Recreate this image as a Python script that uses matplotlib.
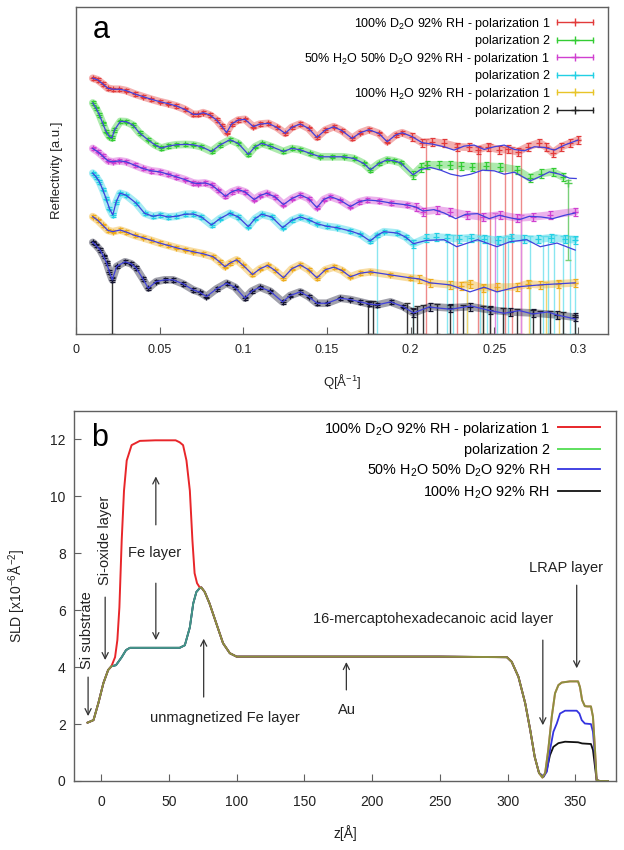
import numpy as np
import matplotlib
matplotlib.use('Agg')
import matplotlib.pyplot as plt
from matplotlib.lines import Line2D
from matplotlib.legend_handler import HandlerLine2D
from matplotlib.ticker import FuncFormatter, MultipleLocator

plt.rcParams['font.family'] = ['Liberation Sans', 'DejaVu Sans']
plt.rcParams['mathtext.fontset'] = 'custom'
plt.rcParams['mathtext.rm'] = 'Liberation Sans'
plt.rcParams['mathtext.it'] = 'Liberation Sans:italic'
plt.rcParams['mathtext.bf'] = 'Liberation Sans:bold'
plt.rcParams['mathtext.default'] = 'regular'

# ---------------- panel a : reflectivity (arbitrary, offset units) ----------------
q_red = [0.010, 0.013, 0.016, 0.019, 0.022, 0.026, 0.030, 0.035, 0.040, 0.045, 0.050, 0.055, 0.060, 0.065,
         0.070, 0.073, 0.076, 0.080, 0.084, 0.087, 0.090, 0.093, 0.097, 0.101, 0.106, 0.110, 0.115, 0.120,
         0.125, 0.129, 0.134, 0.139, 0.144, 0.149, 0.154, 0.159, 0.165, 0.170, 0.175, 0.181, 0.186, 0.191,
         0.195, 0.201, 0.207, 0.213, 0.220, 0.228, 0.235, 0.240, 0.246, 0.253, 0.258, 0.264, 0.270, 0.277,
         0.281, 0.285, 0.290, 0.295, 0.300]
r_red = [765, 760, 748, 735, 732, 732, 728, 718, 710, 702, 695, 689, 682, 672, 657, 657, 662, 655, 640, 622,
         602, 628, 640, 642, 620, 628, 630, 618, 600, 618, 628, 615, 588, 610, 620, 608, 585, 602, 611, 600,
         575, 595, 602, 590, 572, 575, 570, 560, 558, 551, 560, 551, 552, 545, 560, 572, 560, 542, 560, 570, 580]
q_red_fit_tail = [0.207, 0.213, 0.220, 0.226, 0.232, 0.238, 0.244, 0.250, 0.256, 0.262, 0.268, 0.274, 0.280,
                  0.286, 0.292, 0.300]
r_red_fit_tail = [572, 568, 560, 550, 562, 565, 552, 560, 565, 552, 548, 560, 558, 550, 565, 580]
q_red_long = [0.209, 0.228, 0.240, 0.2415, 0.2475, 0.2565, 0.2605, 0.266]
r_red_long = [574, 560, 551, 551, 560, 551, 552, 546]

q_grn = [0.010, 0.012, 0.014, 0.016, 0.018, 0.020, 0.0215, 0.023, 0.0265, 0.030, 0.034, 0.038, 0.043, 0.047,
         0.051, 0.055, 0.060, 0.065, 0.070, 0.075, 0.081, 0.086, 0.092, 0.097, 0.103, 0.107, 0.111, 0.116,
         0.124, 0.129, 0.134, 0.140, 0.146, 0.153, 0.160, 0.166, 0.172, 0.176, 0.181, 0.186, 0.190, 0.194,
         0.2015, 0.206, 0.210, 0.217, 0.2235, 0.230, 0.237, 0.245, 0.2535, 0.2635, 0.2713, 0.278, 0.285, 0.291]
r_grn = [691, 675, 655, 630, 605, 590, 586, 610, 636, 635, 625, 601, 581, 566, 556, 562, 566, 567, 566, 560,
         546, 565, 581, 570, 537, 560, 570, 562, 546, 555, 551, 540, 530, 530, 530, 525, 510, 491, 510, 521,
         518, 512, 476, 498, 506, 506, 506, 503, 500, 502, 500, 491, 467, 480, 485, 470]
q_grn_fit_tail = [0.206, 0.212, 0.218, 0.224, 0.230, 0.236, 0.243, 0.250, 0.256, 0.262, 0.2715, 0.277, 0.283,
                  0.289, 0.295, 0.299]
r_grn_fit_tail = [492, 498, 490, 478, 472, 478, 490, 488, 478, 484, 458, 470, 485, 478, 466, 465]
q_grn_long = [0.294]
r_grn_long = [452]
r_grn_long_low = [222]

q_mag = [0.010, 0.013, 0.016, 0.019, 0.022, 0.026, 0.030, 0.035, 0.040, 0.045, 0.050, 0.055, 0.060, 0.065,
         0.070, 0.073, 0.077, 0.081, 0.085, 0.0893, 0.093, 0.097, 0.101, 0.1065, 0.110, 0.114, 0.119, 0.124,
         0.129, 0.134, 0.139, 0.144, 0.148, 0.152, 0.158, 0.164, 0.169, 0.174, 0.181, 0.188, 0.198, 0.203,
         0.2074, 0.2157, 0.2236, 0.234, 0.243, 0.2535, 0.2637, 0.273, 0.2834, 0.2984]
r_mag = [555, 545, 532, 518, 515, 518, 515, 505, 495, 488, 485, 478, 470, 462, 452, 450, 452, 446, 430, 412,
         425, 432, 425, 402, 414, 421, 410, 387, 405, 416, 405, 378, 402, 411, 400, 381, 395, 401, 398, 392,
         386, 380, 366, 371, 366, 356, 350, 356, 347, 350, 356, 366]
q_mag_fit_tail = [0.2074, 0.214, 0.220, 0.227, 0.233, 0.240, 0.247, 0.253, 0.259, 0.265, 0.271, 0.278,
                  0.285, 0.292, 0.2984]
r_mag_fit_tail = [368, 372, 362, 345, 358, 360, 345, 355, 348, 342, 352, 350, 345, 355, 362]
q_mag_long = [0.2505, 0.266]
r_mag_long = [354, 347]

q_cyn = [0.010, 0.012, 0.014, 0.016, 0.018, 0.020, 0.022, 0.024, 0.0263, 0.030, 0.036, 0.041, 0.046, 0.050,
         0.055, 0.060, 0.065, 0.070, 0.075, 0.081, 0.086, 0.092, 0.097, 0.103, 0.107, 0.111, 0.117, 0.1235,
         0.129, 0.134, 0.139, 0.144, 0.150, 0.156, 0.164, 0.170, 0.1758, 0.180, 0.184, 0.192, 0.197, 0.2017,
         0.2095, 0.215, 0.222, 0.229, 0.236, 0.244, 0.252, 0.260, 0.268, 0.276, 0.284, 0.292, 0.298]
r_cyn = [481, 470, 455, 432, 405, 375, 356, 395, 421, 415, 391, 361, 352, 356, 350, 352, 358, 359, 350, 326,
         345, 361, 350, 321, 345, 358, 350, 318, 340, 350, 342, 330, 322, 318, 308, 298, 278, 295, 306, 302,
         290, 270, 287, 290, 288, 285, 288, 285, 280, 287, 285, 283, 288, 284, 282]
q_cyn_fit_tail = [0.2095, 0.220, 0.2276, 0.240, 0.2516, 0.2595, 0.2694, 0.2775, 0.2875, 0.2984]
r_cyn_fit_tail = [280, 282, 261, 282, 261, 276, 282, 261, 272, 251]
q_cyn_long = [0.180, 0.2015, 0.222, 0.2255, 0.2335, 0.2415, 0.2455, 0.2515, 0.255, 0.258, 0.2715, 0.279,
              0.282, 0.286, 0.291, 0.2955, 0.298]
r_cyn_long = [295, 272, 288, 287, 286, 286, 285, 282, 281, 285, 286, 284, 285, 287, 286, 284, 282]

q_yel = [0.010, 0.013, 0.016, 0.019, 0.022, 0.0263, 0.030, 0.035, 0.040, 0.045, 0.050, 0.055, 0.060, 0.065,
         0.070, 0.076, 0.082, 0.086, 0.089, 0.092, 0.096, 0.100, 0.1055, 0.110, 0.1145, 0.119, 0.124, 0.129,
         0.134, 0.139, 0.144, 0.149, 0.154, 0.159, 0.164, 0.170, 0.176, 0.1877, 0.1996, 0.205, 0.2117,
         0.2236, 0.230, 0.2355, 0.243, 0.2516, 0.2637, 0.270, 0.2775, 0.288, 0.2984]
r_yel = [351, 340, 325, 310, 306, 311, 305, 295, 288, 280, 272, 265, 258, 252, 246, 240, 231, 215, 201, 212,
         222, 205, 178, 195, 205, 190, 168, 195, 207, 192, 168, 192, 200, 190, 171, 182, 186, 177, 168, 165,
         153, 147, 145, 150, 138, 140, 141, 150, 147, 150, 153]
q_yel_fit_tail = [0.2117, 0.2236, 0.2355, 0.244, 0.2516, 0.2637, 0.2775, 0.2984]
r_yel_fit_tail = [153, 147, 126, 140, 126, 141, 147, 153]
q_yel_long = [0.234, 0.243, 0.271, 0.281, 0.289]
r_yel_long = [148, 140, 150, 148, 150]

q_blk = [0.010, 0.012, 0.0144, 0.0165, 0.0183, 0.020, 0.0217, 0.0243, 0.0293, 0.033, 0.036, 0.040, 0.0432,
         0.048, 0.053, 0.058, 0.064, 0.070, 0.074, 0.078, 0.084, 0.090, 0.095, 0.101, 0.105, 0.110, 0.116,
         0.1235, 0.128, 0.134, 0.139, 0.144, 0.150, 0.158, 0.164, 0.170, 0.175, 0.180, 0.188, 0.1955, 0.2017,
         0.2117, 0.2236, 0.2355, 0.2475, 0.2595, 0.273, 0.2875, 0.2984]
r_blk = [274, 265, 251, 232, 212, 185, 162, 202, 216, 210, 197, 165, 137, 157, 162, 162, 150, 132, 125, 112,
         135, 152, 140, 107, 128, 140, 128, 96, 115, 126, 112, 92, 92, 107, 103, 96, 90, 87, 96, 82, 63, 82,
         78, 82, 72, 66, 63, 57, 50]
q_blk_fit_tail = [0.212, 0.224, 0.236, 0.2475, 0.256, 0.265, 0.273, 0.282, 0.2875, 0.2984]
r_blk_fit_tail = [80, 74, 84, 70, 62, 70, 60, 66, 57, 45]
q_blk_long = [0.0217, 0.1745, 0.1775, 0.198, 0.2015, 0.204, 0.2075, 0.216, 0.2235, 0.2315, 0.2435, 0.2475,
              0.255, 0.2635, 0.273, 0.2775, 0.2835, 0.291, 0.298]
r_blk_long = [162, 92, 90, 85, 70, 75, 80, 82, 78, 80, 76, 72, 70, 66, 63, 60, 60, 57, 50]

labels_a = ['100% D$_2$O 92% RH - polarization 1', 'polarization 2',
            '50% H$_2$O 50% D$_2$O 92% RH - polarization 1', 'polarization 2',
            '100% H$_2$O 92% RH - polarization 1', 'polarization 2']
xticks_a = [0, 0.05, 0.1, 0.15, 0.2, 0.25, 0.3]

# ---------------- panel b : SLD profiles ----------------
z_red = [-10, -5.6, -2, 1.7, 5.2, 7.6, 10.3, 12, 13.5, 15.2, 16.9, 18.9, 22.5, 28.6, 40, 55, 58, 60.5, 63,
         65.5, 67.4, 69, 70.8, 72.8, 74, 76.5, 80, 85, 90, 95, 100, 150, 200, 250, 299.5, 303, 308, 313,
         316.7, 320, 323.2, 325.7, 327.7, 330, 332.6, 335, 337.5, 340, 346, 352, 353.4, 355, 357, 359, 361.5,
         363, 364.5, 365.7, 368, 374]
sld_red = [2.05, 2.14, 2.74, 3.44, 3.9, 4.03, 4.35, 4.95, 6.1, 8.45, 10.2, 11.26, 11.8, 11.95, 11.97, 11.97,
           11.9, 11.8, 11.26, 10.2, 8.45, 7.3, 6.95, 6.8, 6.8, 6.64, 6.24, 5.54, 4.84, 4.49, 4.37, 4.37, 4.37,
           4.37, 4.35, 4.19, 3.66, 2.73, 1.79, 0.85, 0.28, 0.12, 0.28, 1.09, 2.26, 3.08, 3.37, 3.46, 3.5, 3.5,
           3.3, 2.84, 2.63, 2.62, 2.62, 2.26, 1.09, 0.03, 0, 0]
z_grn = [-10, -5.6, -2, 1.7, 5.2, 7.6, 11, 15.2, 18.4, 21.3, 40, 58, 61.8, 65.5, 68, 70.3, 72.8, 74, 76.5,
         80, 85, 90, 95, 100, 150, 200, 250, 299.5, 303, 308, 313, 316.7, 320, 323.2, 325.7, 327.7, 330,
         332.6, 335, 337.5, 340, 346, 352, 353.4, 355, 357, 359, 361.5, 363, 364.5, 365.7, 368, 374]
sld_grn = [2.05, 2.14, 2.74, 3.44, 3.9, 4.03, 4.07, 4.35, 4.6, 4.68, 4.68, 4.68, 4.77, 5.4, 6.24, 6.64,
           6.78, 6.8, 6.64, 6.24, 5.54, 4.84, 4.49, 4.37, 4.37, 4.37, 4.37, 4.35, 4.19, 3.66, 2.73, 1.79,
           0.85, 0.28, 0.12, 0.28, 1.09, 2.26, 3.08, 3.37, 3.46, 3.5, 3.5, 3.3, 2.84, 2.63, 2.62, 2.62, 2.26,
           1.09, 0.03, 0, 0]
z_blu_tail = [326.5, 329, 331.3, 333.8, 336.3, 338.7, 342.4, 351, 353, 354.7, 357, 361.5, 363, 364.5, 365.7,
              368, 374]
sld_blu_tail = [0.15, 0.33, 1.09, 1.73, 2.02, 2.37, 2.47, 2.47, 2.37, 2.14, 2.02, 2.0, 1.73, 0.85, 0.03, 0, 0]
z_blk_tail = [326.5, 328.9, 331.3, 333.8, 337.5, 342.4, 352, 355, 361.5, 363, 364.5, 365.7, 368, 374]
sld_blk_tail = [0.15, 0.39, 0.91, 1.2, 1.33, 1.38, 1.36, 1.32, 1.3, 1.09, 0.5, 0.03, 0, 0]
labels_b = ['100% D$_2$O 92% RH - polarization 1', 'polarization 2',
            '50% H$_2$O 50% D$_2$O 92% RH', '100% H$_2$O 92% RH']

# annotations: (text, x, y, rotation), arrows: (x, y_tail, y_head)
ann_text = [('Si substrate', -10.3, 5.3, 90), ('Si-oxide layer', 2.9, 8.46, 90), ('Fe layer', 39.7, 8.0, 0),
            ('unmagnetized Fe layer', 91.5, 2.2, 0), ('Au', 181.6, 2.5, 0),
            ('16-mercaptohexadecanoic acid layer', 245, 5.7, 0), ('LRAP layer', 343, 7.5, 0)]
ann_arrows = [(-9.6, 3.65, 2.28), (3.0, 6.46, 4.25), (40.4, 9.0, 10.7), (40.4, 6.95, 4.95),
              (75.7, 2.95, 5.0), (181, 3.2, 4.18), (326, 4.95, 1.96), (351, 6.88, 3.96)]

# ---------------------------------------------------------------------------
fig = plt.figure(figsize=(6.24, 8.5), dpi=100)
spine_c = '#606060'
txt_c = '#222222'

axa = fig.add_axes([76 / 624, 1 - 334 / 850, 532 / 624, 327 / 850])
fit_c = '#4040dc'
series = [
    (q_red, r_red, q_red_fit_tail, r_red_fit_tail, q_red_long, r_red_long, '#e23a3a', '#ee8a8a'),
    (q_grn, r_grn, q_grn_fit_tail, r_grn_fit_tail, [], [], '#33cc33', '#7ee07e'),
    (q_mag, r_mag, q_mag_fit_tail, r_mag_fit_tail, q_mag_long, r_mag_long, '#d040d0', '#e08ae0'),
    (q_cyn, r_cyn, q_cyn_fit_tail, r_cyn_fit_tail, q_cyn_long, r_cyn_long, '#22d0e4', '#8ae6f0'),
    (q_yel, r_yel, q_yel_fit_tail, r_yel_fit_tail, q_yel_long, r_yel_long, '#eeac1c', '#f2d470'),
    (q_blk, r_blk, q_blk_fit_tail, r_blk_fit_tail, q_blk_long, r_blk_long, '#14142e', '#333333'),
]
legend_cols = ['#e23a3a', '#33cc33', '#d040d0', '#22d0e4', '#e8c428', '#222222']
for q, r, qt, rt, ql, rl, c, lc in series:
    q = np.array(q); r = np.array(r)
    if len(ql):
        rl = np.array(rl)
        axa.errorbar(ql, rl, yerr=[rl, np.full(len(rl), 8)], fmt='none', ecolor=lc, elinewidth=1.0,
                     capsize=2, zorder=1)
    axa.plot(q, r, color=c, lw=5.5, alpha=0.4, solid_capstyle='round', zorder=2)
    err = np.where(q > 0.2, 12, 5)
    axa.errorbar(q, r, yerr=err, fmt='+', color=c, ms=5, mew=0.9, elinewidth=0.8, capsize=1.8, zorder=3)
    keep = q < min(qt)
    axa.plot(np.concatenate([q[keep], qt]), np.concatenate([r[keep], rt]), color=fit_c, lw=0.9, zorder=4)
axa.errorbar(q_grn_long, r_grn_long,
             yerr=[np.array(r_grn_long) - np.array(r_grn_long_low), [8]], fmt='+', color='#55cc55',
             ecolor='#7ad07a', ms=6, elinewidth=1.0, capsize=2, zorder=1)

axa.set_xlim(0, 0.318)
axa.set_ylim(0, 978)
axa.set_xticks(xticks_a)
axa.xaxis.set_major_formatter(FuncFormatter(lambda v, p: '%g' % v))
axa.tick_params(axis='x', direction='in', length=5, pad=7, labelsize=9, color=spine_c, labelcolor=txt_c)
axa.tick_params(axis='y', left=False, labelleft=False)
for s in axa.spines.values():
    s.set_color(spine_c); s.set_linewidth(1.0)
axa.set_xlabel('Q[Å$^{-1}$]', fontsize=9.5, color=txt_c)
axa.xaxis.set_label_coords(0.5, -0.115)
axa.set_ylabel('Reflectivity [a.u.]', fontsize=9.5, color=txt_c)
axa.yaxis.set_label_coords(-0.025, 0.5)
axa.text(0.047, 0.93, 'a', transform=axa.transAxes, fontsize=22, ha='center', va='center', color='black')

handles = []
hmap = {}
for c in legend_cols:
    l1 = Line2D([], [], color=c, lw=1.0, marker='|', ms=5, mew=1.0)
    l2 = Line2D([], [], color=c, ls='none', marker='+', ms=6, mew=1.0)
    hmap[l1] = HandlerLine2D(numpoints=2, marker_pad=0)
    hmap[l2] = HandlerLine2D(numpoints=1)
    handles.append((l1, l2))
axa.legend(handles, labels_a, handler_map=hmap, loc='upper right', bbox_to_anchor=(0.972, 0.974),
           frameon=False, markerfirst=False, fontsize=9.0, handlelength=2.9, handletextpad=0.55,
           labelspacing=0.28, borderaxespad=0, borderpad=0)

# ---------------- panel b ----------------
axb = fig.add_axes([74 / 624, 1 - 781 / 850, 542 / 624, 370 / 850])
k = z_grn.index(325.7)
z_blu = z_grn[:k] + z_blu_tail
sld_blu = sld_grn[:k] + sld_blu_tail
z_blk = z_grn[:k] + z_blk_tail
sld_blk = sld_grn[:k] + sld_blk_tail
axb.plot(z_blk, sld_blk, color='#111111', lw=1.3)
axb.plot(z_blu, sld_blu, color='#3434e0', lw=1.3)
axb.plot(z_red, sld_red, color='#e8262a', lw=1.4)
axb.plot(z_grn, sld_grn, color='#4ed84e', lw=1.4, alpha=0.6)
hr = Line2D([], [], color='#e8262a', lw=1.4)
hg = Line2D([], [], color='#5ee05e', lw=1.4)
hbl = Line2D([], [], color='#3434e0', lw=1.3)
hb = Line2D([], [], color='#111111', lw=1.3)
axb.legend([hr, hg, hbl, hb], labels_b, loc='upper right', bbox_to_anchor=(0.970, 0.977),
           frameon=False, markerfirst=False, fontsize=10.4, handlelength=2.9, handletextpad=0.55,
           labelspacing=0.38, borderaxespad=0, borderpad=0)

for t, x, y, rot in ann_text:
    axb.text(x, y, t, rotation=rot, ha='center', va='center', fontsize=10.5, color=txt_c)
for x, y0, y1 in ann_arrows:
    axb.annotate('', xy=(x, y1), xytext=(x, y0),
                 arrowprops=dict(arrowstyle='->', color='#333333', lw=0.9, shrinkA=0, shrinkB=0,
                                 mutation_scale=11))

axb.set_xlim(-20, 380)
axb.set_ylim(0, 13)
axb.yaxis.set_major_locator(MultipleLocator(2))
axb.set_xticks([0, 50, 100, 150, 200, 250, 300, 350])
axb.tick_params(axis='x', direction='in', length=5, pad=10, labelsize=10, color=spine_c, labelcolor=txt_c)
axb.tick_params(axis='y', direction='in', length=5, pad=6, labelsize=10, color=spine_c, labelcolor=txt_c)
for s in axb.spines.values():
    s.set_color(spine_c); s.set_linewidth(1.0)
axb.set_xlabel('z[Å]', fontsize=10, color=txt_c)
axb.xaxis.set_label_coords(0.5, -0.12)
axb.set_ylabel('SLD [x10$^{-6}$Å$^{-2}$]', fontsize=10, color=txt_c)
axb.yaxis.set_label_coords(-0.085, 0.5)
axb.text(0.048, 0.927, 'b', transform=axb.transAxes, fontsize=22, ha='center', va='center', color='black')

fig.savefig('out.png', dpi=100)
